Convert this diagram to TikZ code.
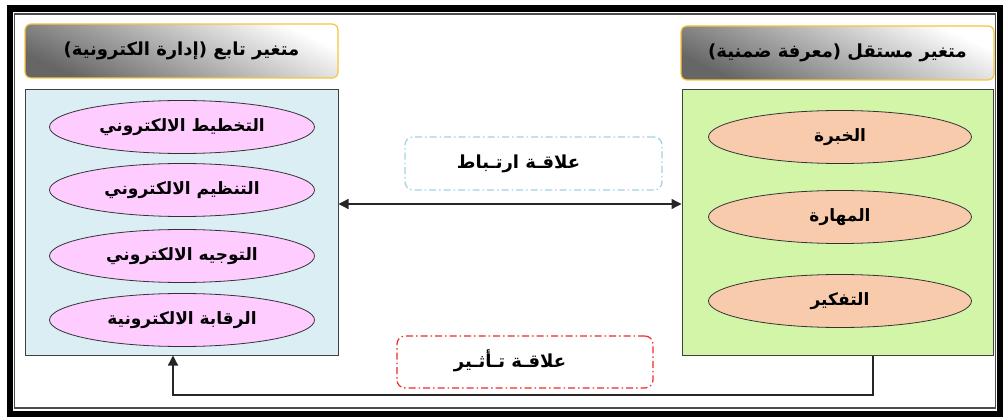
\documentclass[tikz,border=0pt]{standalone}
\usepackage{fontspec}
\usetikzlibrary{shapes.geometric,arrows.meta}
\newfontfamily\arabicfont[Script=Arabic]{DejaVu Sans}
\TeXXeTstate=1
\definecolor{boxblue}{HTML}{DAEEF3}
\definecolor{boxgreen}{HTML}{D2F5A8}
\definecolor{ovalpink}{HTML}{FFCCFF}
\definecolor{ovalpeach}{HTML}{F8CBAD}
\definecolor{headgold}{HTML}{F7C43C}
\definecolor{linkblue}{HTML}{9ED3E2}
\definecolor{linkred}{HTML}{F02828}
\newcommand{\ar}[1]{{\arabicfont\bfseries\beginR #1\endR}}
\begin{document}
\begin{tikzpicture}[x=1pt, y=-1pt,
    header/.style={draw=headgold, line width=1.2pt, rounded corners=6pt, minimum width=313pt, minimum height=54pt,
      shading=axis, top color=white, bottom color=black!60, shading angle=-25, font=\fontsize{18}{20}\selectfont},
    panel/.style={draw=black!75, line width=1pt, minimum width=313pt, minimum height=265pt},
    oval/.style={ellipse, draw=black!80, line width=0.8pt, minimum width=265pt, minimum height=53pt, inner sep=0pt, font=\fontsize{17}{19}\selectfont},
    link/.style={rounded corners=8pt, line width=1.2pt, dash pattern=on 7pt off 3pt on 1.5pt off 3pt, minimum width=257pt, minimum height=53pt, font=\fontsize{18}{20}\selectfont},
    tip/.style={line width=1.3pt, draw=black!85}]
  \useasboundingbox (0,0) rectangle (1003,419);

  % frame
  \draw[line width=6.5pt] (10,8.5) rectangle (1000.5,414);
  \draw[line width=1.5pt, black!70] (14.5,14) rectangle (995.5,408);

  % headers
  \node[header] (lhead) at (181.5,51) {\ar{متغير تابع (إدارة الكترونية)}};
  \node[header] (rhead) at (837.5,53) {\ar{متغير مستقل (معرفة ضمنية)}};

  % panels
  \node[panel, fill=boxblue] (lbox) at (181.5,222.5) {};
  \node[panel, fill=boxgreen, minimum width=311pt] (rbox) at (837.5,222.5) {};

  % dependent variable
  \node[oval, fill=ovalpink] (plan) at (182,127) {\ar{التخطيط الالكتروني}};
  \node[oval, fill=ovalpink] (org) at (182,190) {\ar{التنظيم الالكتروني}};
  \node[oval, fill=ovalpink] (guide) at (182,256) {\ar{التوجيه الالكتروني}};
  \node[oval, fill=ovalpink] (ctrl) at (182,320) {\ar{الرقابة الالكترونية}};

  % independent variable
  \node[oval, fill=ovalpeach, minimum width=263pt] (exp) at (840,137) {\ar{الخبرة}};
  \node[oval, fill=ovalpeach, minimum width=263pt] (skill) at (840,217) {\ar{المهارة}};
  \node[oval, fill=ovalpeach, minimum width=263pt] (think) at (840,301) {\ar{التفكير}};

  % relations
  \node[link, draw=linkblue] (corr) at (533.5,163.5) {\raisebox{4pt}{\ar{علاقـة ارتـباط}}\hspace*{30pt}};
  \node[link, draw=linkred, minimum width=256pt, minimum height=52pt] (effect) at (525,362) {\raisebox{6pt}{\ar{علاقـة تـأثـير}}\hspace*{30pt}};

  \coordinate (mid) at (510,204);
  \coordinate (ret) at (173,395);
  \draw[tip, {Triangle[length=10pt,width=10pt]}-{Triangle[length=10pt,width=10pt]}] (lbox.east |- mid) -- (rbox.west |- mid);
  \draw[tip, -{Triangle[length=10pt,width=10pt]}] ([xshift=35.5pt]rbox.south) |- (ret) -- (ret |- lbox.south);
\end{tikzpicture}
\end{document}
